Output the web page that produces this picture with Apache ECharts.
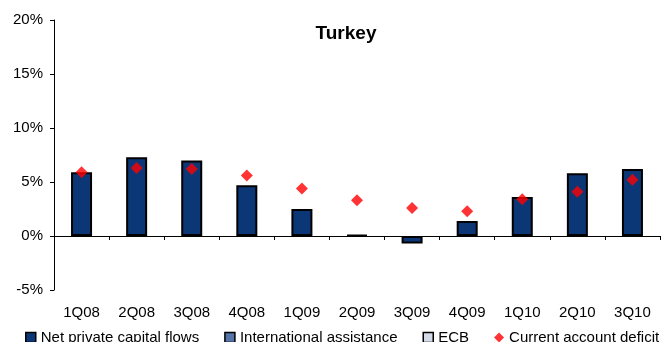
<!DOCTYPE html>
<html>
<head>
<meta charset="utf-8">
<script src="https://cdn.jsdelivr.net/npm/echarts@6/dist/echarts.min.js"></script>
<style>
  html, body { margin: 0; padding: 0; background: #fff; }
  #chart { width: 666px; height: 342px; }
</style>
</head>
<body>
<div id="chart"></div>
<script>
// Quarterly financing of the current account, % of GDP
const quarters = ['1Q08', '2Q08', '3Q08', '4Q08', '1Q09', '2Q09', '3Q09', '4Q09', '1Q10', '2Q10', '3Q10'];
const netPrivateFlows = [5.9, 7.3, 7.0, 4.7, 2.5, 0.1, -0.7, 1.4, 3.6, 5.8, 6.2];
const intlAssistance = [null, null, null, null, null, null, null, null, null, null, null];
const ecbFunding = [null, null, null, null, null, null, null, null, null, null, null];
const currentAccountDeficit = [5.9, 6.3, 6.2, 5.6, 4.4, 3.3, 2.6, 2.3, 3.4, 4.1, 5.2];
const yTicks = { min: -5, max: 20, step: 5 };

const FONT = '"Liberation Sans", Arial, sans-serif';
const chart = echarts.init(document.getElementById('chart'));

const barStyle = (color) => ({ color: color, borderColor: '#000', borderWidth: 2 });

chart.setOption({
  animation: false,
  backgroundColor: '#fff',
  textStyle: { fontFamily: FONT },
  title: {
    text: 'Turkey',
    left: 341,
    top: 19,
    textAlign: 'center',
    textStyle: { fontFamily: FONT, fontSize: 19, fontWeight: 'bold', color: '#000' }
  },
  grid: { left: 54, right: 6, top: 20, bottom: 52, containLabel: false, outerBoundsMode: 'none' },
  legend: {
    left: 20,
    top: 325,
    width: 660,
    itemWidth: 10,
    itemHeight: 10,
    itemGap: 25,
    itemStyle: { borderWidth: 1.5, borderColor: '#000' },
    textStyle: { fontFamily: FONT, fontSize: 15, color: '#000' },
    data: [
      { name: 'Net private capital flows', icon: 'rect' },
      { name: 'International assistance', icon: 'rect' },
      { name: 'ECB', icon: 'rect' },
      { name: 'Current account deficit', icon: 'diamond', itemStyle: { borderWidth: 0, color: '#FF0000' } }
    ]
  },
  xAxis: [
    {
      // zero line with quarter separators
      type: 'category',
      data: quarters,
      boundaryGap: true,
      axisLine: { onZero: true, lineStyle: { color: '#000', width: 1 } },
      axisTick: { show: true, length: 4, lineStyle: { color: '#000' } },
      axisLabel: { show: false },
      splitLine: { show: false }
    },
    {
      // quarter labels along the bottom edge
      type: 'category',
      data: quarters,
      position: 'bottom',
      boundaryGap: true,
      axisLine: { show: false, onZero: false },
      axisTick: { show: false },
      axisLabel: { show: true, margin: 15, fontFamily: FONT, fontSize: 15, color: '#000' },
      splitLine: { show: false }
    }
  ],
  yAxis: {
    type: 'value',
    min: yTicks.min,
    max: yTicks.max,
    interval: yTicks.step,
    axisLine: { show: true, lineStyle: { color: '#000', width: 1 } },
    axisTick: { show: true, inside: false, length: 4, lineStyle: { color: '#000', width: 1 } },
    axisLabel: { margin: 11, fontFamily: FONT, fontSize: 15, color: '#000', formatter: (v) => v + '%' },
    splitLine: { show: false }
  },
  series: [
    {
      name: 'Net private capital flows',
      type: 'bar',
      stack: 'financing',
      barWidth: 21,
      data: netPrivateFlows,
      itemStyle: barStyle('#0B3777')
    },
    {
      name: 'International assistance',
      type: 'bar',
      stack: 'financing',
      barWidth: 21,
      data: intlAssistance,
      itemStyle: barStyle('#5575A8')
    },
    {
      name: 'ECB',
      type: 'bar',
      stack: 'financing',
      barWidth: 21,
      data: ecbFunding,
      itemStyle: barStyle('#D3DBE8')
    },
    {
      name: 'Current account deficit',
      type: 'scatter',
      symbol: 'diamond',
      symbolSize: 12,
      z: 5,
      data: currentAccountDeficit,
      itemStyle: { color: '#FF0000' }
    }
  ]
});
</script>
</body>
</html>
